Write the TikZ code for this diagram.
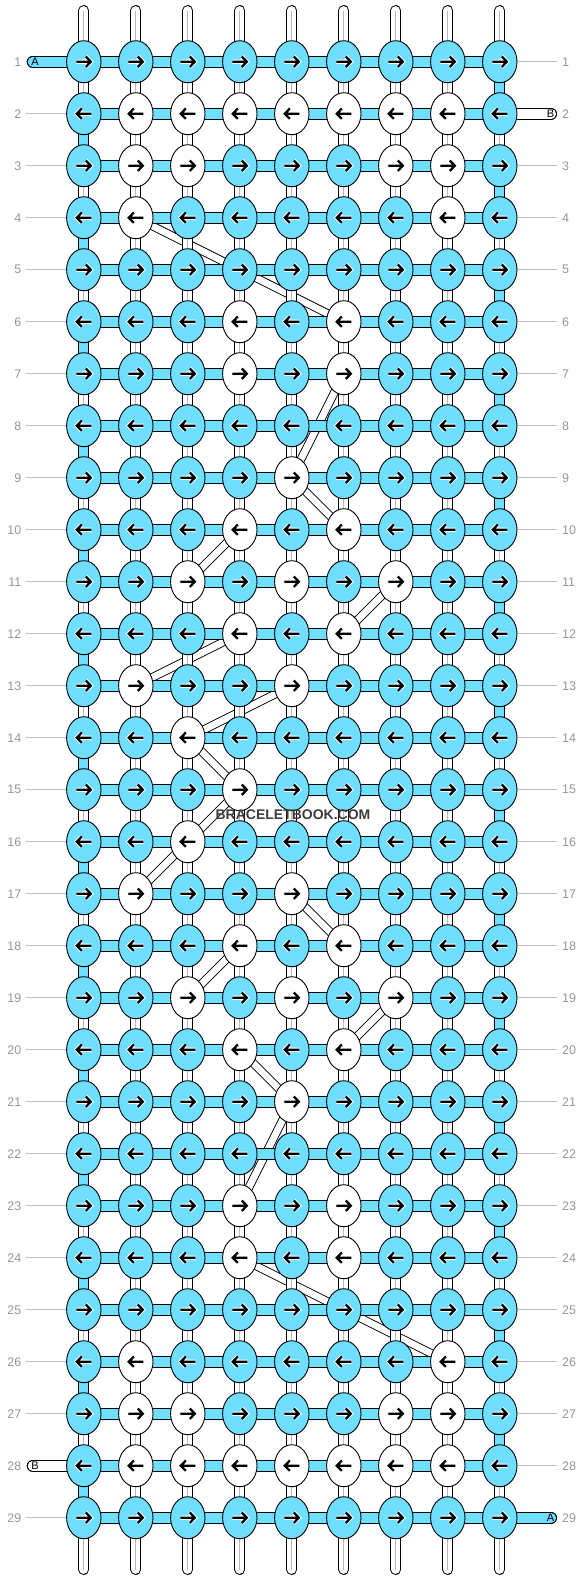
\documentclass[tikz,border=0pt]{standalone}
\usepackage{fontspec}
\setmainfont{Liberation Sans}
\usetikzlibrary{shapes.geometric}
\definecolor{cblue}{RGB}{112,222,255}
\definecolor{lblgray}{RGB}{150,150,150}
\definecolor{rulegray}{RGB}{190,190,190}
\definecolor{midgray}{RGB}{185,185,185}
\definecolor{wmgray}{RGB}{60,60,60}
\pgfdeclarelayer{back}
\pgfdeclarelayer{mid}
\pgfsetlayers{back,mid,main}
\def\whitelist{,2-2,2-3,2-4,2-5,2-6,2-7,2-8,3-2,3-3,3-7,3-8,4-2,4-8,6-4,6-6,7-4,7-6,9-5,10-4,10-6,11-3,11-5,11-7,12-4,12-6,13-2,13-5,14-3,15-4,16-3,17-2,17-5,18-4,18-6,19-3,19-5,19-7,20-4,20-6,21-5,23-4,23-6,24-4,24-6,26-2,26-8,27-2,27-3,27-7,27-8,28-2,28-3,28-4,28-5,28-6,28-7,28-8,}
\makeatletter
\newcommand\checkknot[2]{%
  \edef\ck@tmp{\noexpand\in@{,#1-#2,}{\whitelist}}\ck@tmp
  \ifin@\def\knotfill{white}\def\halo{0}\else\def\knotfill{cblue}\def\halo{1}\fi}
\makeatother
\tikzset{
  arrR/.pic={\draw[line width=2.3pt,line join=miter] (-7.5,0)--(6.6,0) (2,-5.2)--(7,0)--(2,5.2);},
  arrL/.pic={\draw[line width=2.3pt,line join=miter] (7.5,0)--(-6.6,0) (-2,-5.2)--(-7,0)--(-2,5.2);},
  arrRh/.pic={\draw[white,line width=4.3pt,line join=miter] (-7.5,0)--(6.6,0) (2,-5.2)--(7,0)--(2,5.2);
              \draw[line width=2.3pt,line join=miter] (-7.5,0)--(6.6,0) (2,-5.2)--(7,0)--(2,5.2);},
  arrLh/.pic={\draw[white,line width=4.3pt,line join=miter] (7.5,0)--(-6.6,0) (-2,-5.2)--(-7,0)--(-2,5.2);
              \draw[line width=2.3pt,line join=miter] (7.5,0)--(-6.6,0) (-2,-5.2)--(-7,0)--(-2,5.2);}
}
\begin{document}
\begin{tikzpicture}[x=1pt,y=-1pt,
  knot/.style={ellipse,draw=black,line width=0.9pt,minimum width=34.4pt,minimum height=42pt,inner sep=0pt},
  vout/.style={line width=10.8pt,draw=black,line cap=round},
  vin/.style={line width=8.8pt,draw=white,line cap=round},
  vmid/.style={line width=1.2pt,draw=midgray},
  eout/.style={line width=10.8pt,draw=black},
  ein/.style={line width=8.8pt,draw=cblue},
  barout/.style={line width=11.8pt,draw=black},
  barin/.style={line width=9.8pt,draw=cblue},
  strout/.style={line width=11.8pt,draw=black,line cap=round},
  strinA/.style={line width=9.8pt,draw=cblue,line cap=round},
  strinB/.style={line width=9.8pt,draw=white,line cap=round},
  bandout/.style={line width=8.6pt,draw=black},
  bandin/.style={line width=6.8pt,draw=white},
  rowrule/.style={draw=rulegray,line width=0.8pt},
  rowlbl/.style={text=lblgray,font=\fontsize{12.5}{14}\selectfont,inner sep=0pt},
  strlbl/.style={font=\fontsize{11}{13}\selectfont,inner sep=0pt}
]
\useasboundingbox (0,0) rectangle (584,1580);
% knots
\foreach \r in {1,...,29}{
  \foreach \c in {1,...,9}{
    \pgfmathsetmacro\xx{83.8+52*(\c-1)}
    \pgfmathsetmacro\yy{61.7+52*(\r-1)}
    \checkknot{\r}{\c}
    \node[knot,fill=\knotfill] (n-\r-\c) at (\xx,\yy) {};
    \ifodd\r\relax
      \ifnum\halo=1 \pic at (n-\r-\c.center) {arrRh};\else\pic at (n-\r-\c.center) {arrR};\fi
    \else
      \ifnum\halo=1 \pic at (n-\r-\c.center) {arrLh};\else\pic at (n-\r-\c.center) {arrL};\fi
    \fi
  }
}
% vertical strands and end coordinates
\foreach \c in {1,...,9}{
  \pgfmathsetmacro\xx{83.8+52*(\c-1)}
  \coordinate (vt-\c) at (\xx,10.5);
  \coordinate (vb-\c) at (\xx,1569.5);
}
% row labels and rule coordinates
\foreach \r in {1,...,29}{
  \pgfmathsetmacro\yy{61.7+52*(\r-1)}
  \coordinate (ll-\r) at (26,\yy);
  \coordinate (rl-\r) at (557,\yy);
  \node[rowlbl,anchor=east] (lab-l-\r) at (21.5,\yy) {\r};
  \node[rowlbl,anchor=west] (lab-r-\r) at (562,\yy) {\r};
}
\coordinate (aL) at (32.6,61.7);
\coordinate (bR) at (551.2,113.7);
\coordinate (bL) at (32.6,1465.7);
\coordinate (aR) at (551.2,1517.7);

\begin{pgfonlayer}{mid}
  \foreach \r in {1,...,29}{
    \draw[rowrule] (ll-\r) -- (n-\r-1.west);
    \draw[rowrule] (n-\r-9.east) -- (rl-\r);
  }
  \foreach \c in {1,...,9}{
    \draw[vout] (vt-\c) -- (vb-\c);
    \draw[vin] (vt-\c) -- (vb-\c);
    \draw[vmid] (vt-\c) -- (vb-\c);
  }
  \foreach \k in {1,...,14}{
    \pgfmathtruncatemacro\ra{2*\k}
    \pgfmathtruncatemacro\rb{2*\k+1}
    \pgfmathtruncatemacro\rc{2*\k-1}
    \draw[eout] (n-\ra-1.center) -- (n-\rb-1.center);
    \draw[ein] (n-\ra-1.center) -- (n-\rb-1.center);
    \draw[eout] (n-\rc-9.center) -- (n-\ra-9.center);
    \draw[ein] (n-\rc-9.center) -- (n-\ra-9.center);
  }
  \foreach \r in {1,...,29}{
    \foreach \c in {1,...,8}{
      \pgfmathtruncatemacro\cn{\c+1}
      \draw[barout] (n-\r-\c.center) -- (n-\r-\cn.center);
      \draw[barin] (n-\r-\c.center) -- (n-\r-\cn.center);
    }
  }
  \draw[strout] (aL) -- (n-1-1.center);
  \draw[strinA] (aL) -- (n-1-1.center);
  \draw[strout] (n-2-9.center) -- (bR);
  \draw[strinB] (n-2-9.center) -- (bR);
  \draw[strout] (bL) -- (n-28-1.center);
  \draw[strinB] (bL) -- (n-28-1.center);
  \draw[strout] (n-29-9.center) -- (aR);
  \draw[strinA] (n-29-9.center) -- (aR);
\end{pgfonlayer}

\begin{pgfonlayer}{back}
  \foreach \ra/\ca/\rb/\cb in {4/2/6/6, 7/6/9/5, 9/5/10/6, 10/4/11/3, 11/7/12/6, 12/4/13/2, 13/5/14/3, 14/3/15/4, 15/4/16/3, 16/3/17/2, 17/5/18/6, 18/4/19/3, 19/7/20/6, 20/4/21/5, 21/5/23/4, 24/4/26/8}{
    \draw[bandout] (n-\ra-\ca.center) -- (n-\rb-\cb.center);
    \draw[bandin] (n-\ra-\ca.center) -- (n-\rb-\cb.center);
  }
\end{pgfonlayer}

\node[strlbl] (labA1) at (35,61.7) {A};
\node[strlbl] (labB1) at (550.5,113.7) {B};
\node[strlbl] (labB2) at (35,1465.7) {B};
\node[strlbl] (labA2) at (550.5,1517.7) {A};
\node[font=\bfseries\fontsize{14}{16}\selectfont,text=wmgray,inner sep=0pt] (wm) at (293,815) {BRACELETBOOK.COM};
\end{tikzpicture}
\end{document}
